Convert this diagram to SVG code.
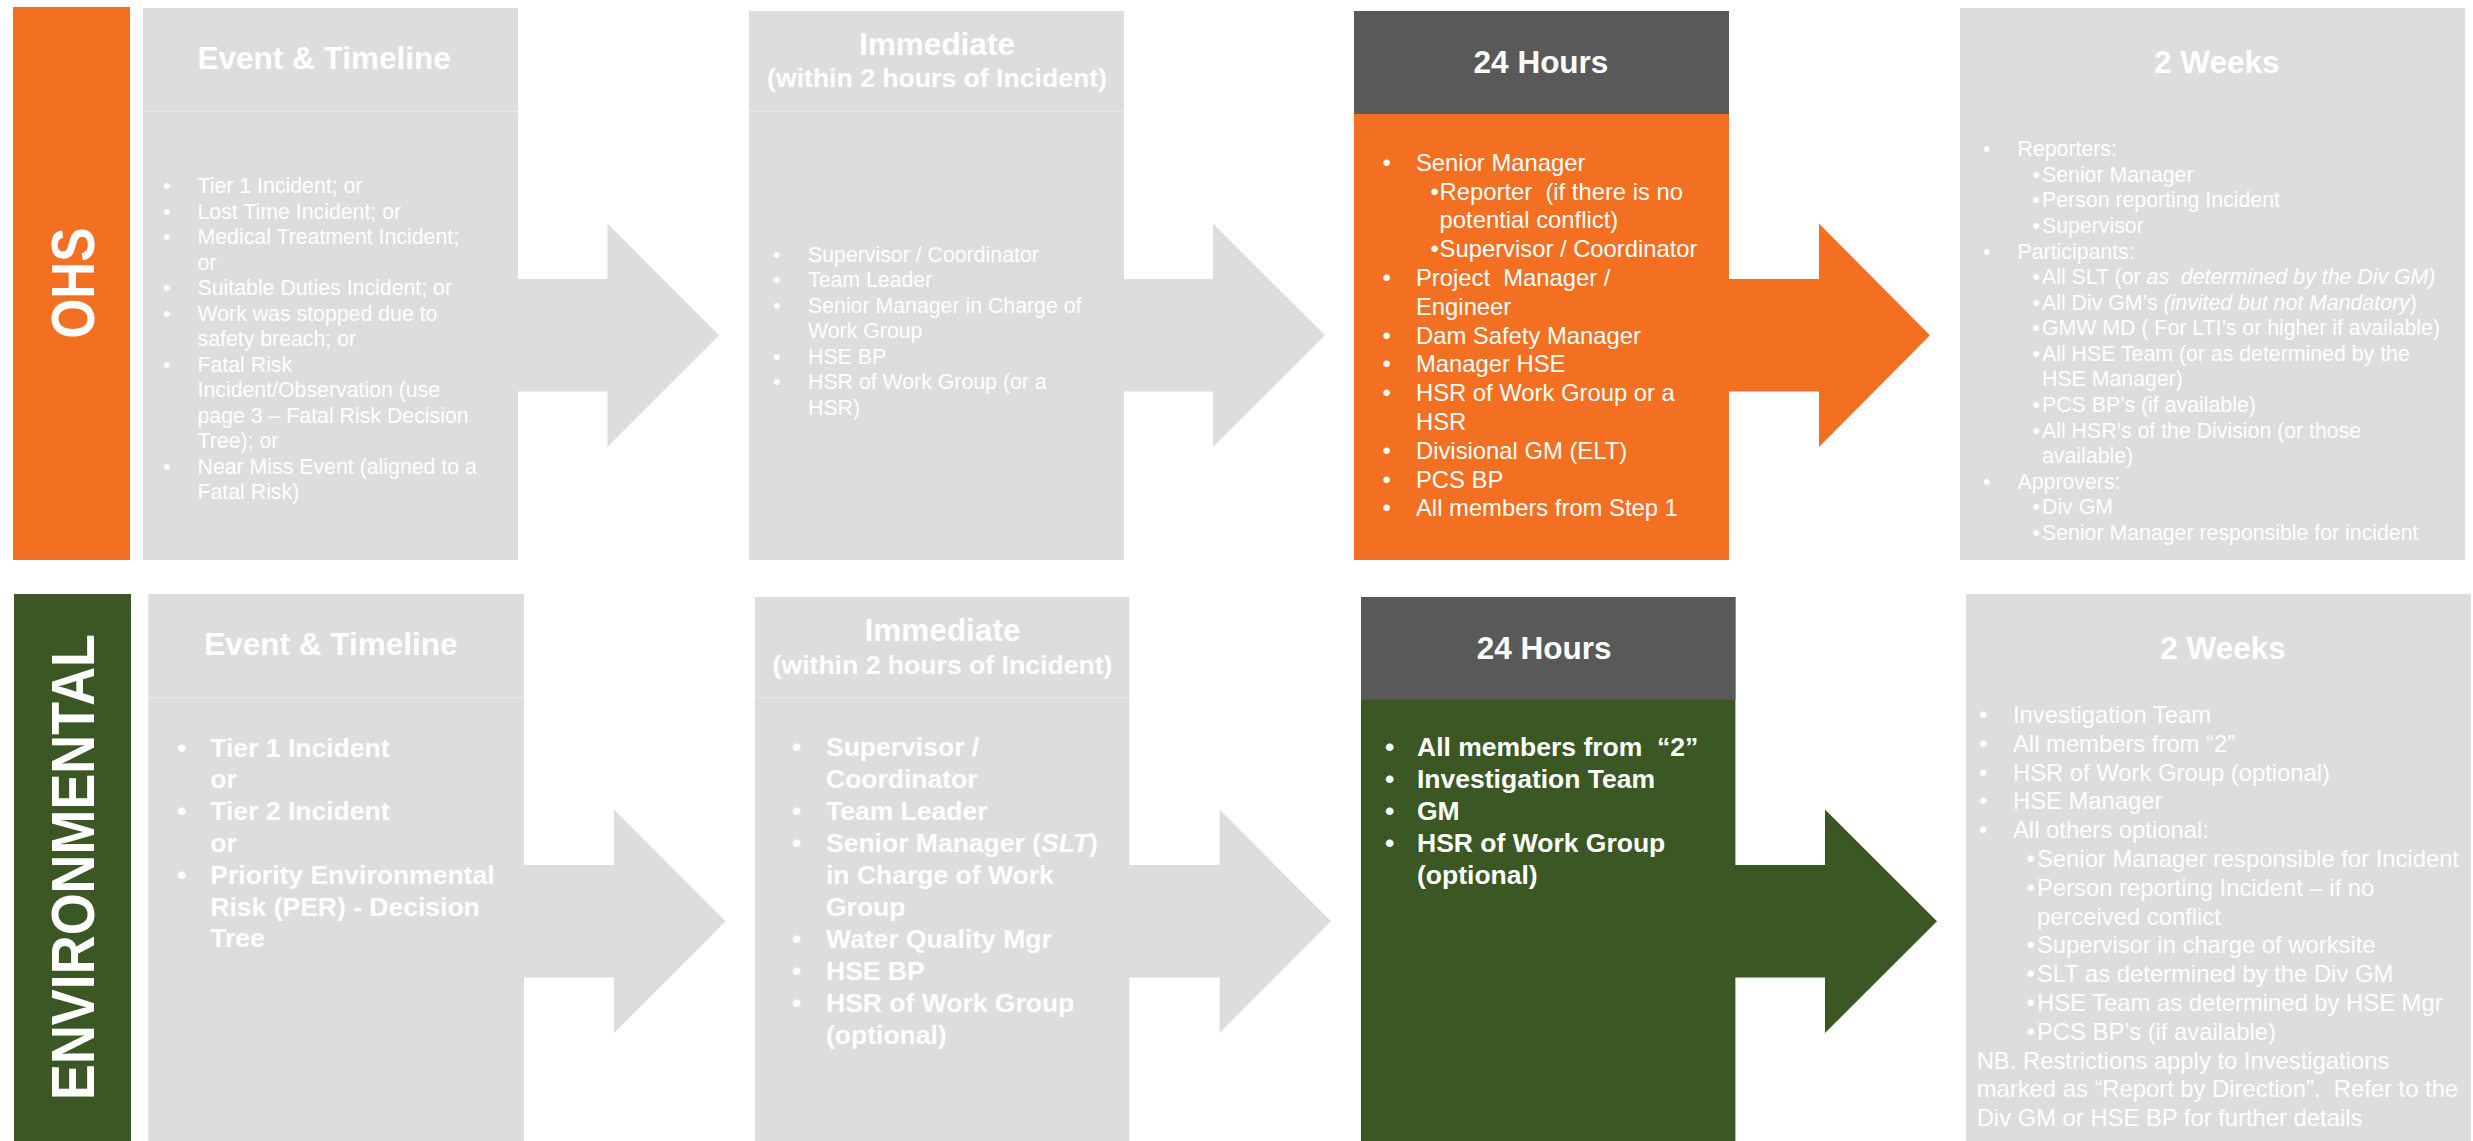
<svg xmlns="http://www.w3.org/2000/svg" width="2473" height="1141" viewBox="0 0 2473 1141">
<style>
text{font-family:"Liberation Sans",Arial,sans-serif;fill:#ffffff}
.h{font-size:31.5px;font-weight:bold}
.h2{font-size:26.6px;font-weight:bold}
.s1{font-size:21.3px}
.s2{font-size:23.8px}
.s3{font-size:26.5px;font-weight:bold}
.v{font-size:60.5px;font-weight:bold}
.gray{fill:#dddddd}
.div{stroke:#e6e6e6;stroke-width:1.5}
.dark{fill:#595959}
.org{fill:#f37022}
.grn{fill:#3b5724}
.i{font-style:italic}
</style>
<rect width="2473" height="1141" fill="#ffffff"/>

<g id="connectors">
<polygon class="gray" points="517,279 607.5,279 607.5,223.6 719,335.3 607.5,447 607.5,391.5 517,391.5"/>
<polygon class="gray" points="1123,279 1213,279 1213,223.6 1325,335.3 1213,447 1213,391.5 1123,391.5"/>
<polygon class="org" points="1728,279 1819,279 1819,223.6 1930,335.3 1819,447 1819,391.5 1728,391.5"/>
<polygon class="gray" points="523,865 614,865 614,809.6 725.5,921.3 614,1033 614,977.5 523,977.5"/>
<polygon class="gray" points="1128.4,865 1219.6,865 1219.6,809.6 1331,921.3 1219.6,1033 1219.6,977.5 1128.4,977.5"/>
<polygon class="grn" points="1734.4,865 1825,865 1825,809.6 1937,921.3 1825,1033 1825,977.5 1734.4,977.5"/>
</g>

<g id="ohs-label">
<rect class="org" x="13" y="7" width="117" height="553"/>
<text class="v" transform="translate(94,283) rotate(-90)" text-anchor="middle" textLength="111" lengthAdjust="spacingAndGlyphs">OHS</text>
</g>

<g id="ohs-event">
<rect class="gray" x="143" y="8" width="375" height="552"/>
<line class="div" x1="143" y1="111.5" x2="518" y2="111.5"/>
<text class="h" x="197.5" y="69">Event &amp; Timeline</text>
<g class="s1">
<text class="s1" x="163" y="193.4">•</text><text class="s1" x="197.5" y="193.4">Tier 1 Incident; or</text>
<text class="s1" x="163" y="218.9">•</text><text class="s1" x="197.5" y="218.9">Lost Time Incident; or</text>
<text class="s1" x="163" y="244.4">•</text><text class="s1" x="197.5" y="244.4">Medical Treatment Incident;</text>
<text class="s1" x="197.5" y="269.9">or</text>
<text class="s1" x="163" y="295.4">•</text><text class="s1" x="197.5" y="295.4">Suitable Duties Incident; or</text>
<text class="s1" x="163" y="320.9">•</text><text class="s1" x="197.5" y="320.9">Work was stopped due to</text>
<text class="s1" x="197.5" y="346.4">safety breach; or</text>
<text class="s1" x="163" y="371.9">•</text><text class="s1" x="197.5" y="371.9">Fatal Risk</text>
<text class="s1" x="197.5" y="397.4">Incident/Observation (use</text>
<text class="s1" x="197.5" y="422.9">page 3 – Fatal Risk Decision</text>
<text class="s1" x="197.5" y="448.4">Tree); or</text>
<text class="s1" x="163" y="473.9">•</text><text class="s1" x="197.5" y="473.9">Near Miss Event (aligned to a</text>
<text class="s1" x="197.5" y="499.4">Fatal Risk)</text>
</g>
</g>

<g id="ohs-immediate">
<rect class="gray" x="749" y="11" width="375" height="549"/>
<line class="div" x1="749" y1="111.5" x2="1124" y2="111.5"/>
<text class="h" x="937" y="55.3" text-anchor="middle">Immediate</text>
<text class="h2" x="937" y="87" text-anchor="middle">(within 2 hours of Incident)</text>
<text class="s1" x="773" y="261.5">•</text><text class="s1" x="808" y="261.5">Supervisor / Coordinator</text>
<text class="s1" x="773" y="287">•</text><text class="s1" x="808" y="287">Team Leader</text>
<text class="s1" x="773" y="312.5">•</text><text class="s1" x="808" y="312.5">Senior Manager in Charge of</text>
<text class="s1" x="808" y="338">Work Group</text>
<text class="s1" x="773" y="363.5">•</text><text class="s1" x="808" y="363.5">HSE BP</text>
<text class="s1" x="773" y="389">•</text><text class="s1" x="808" y="389">HSR of Work Group (or a</text>
<text class="s1" x="808" y="414.5">HSR)</text>
</g>

<g id="ohs-24h">
<rect class="org" x="1354" y="11" width="375" height="549"/>
<rect class="dark" x="1354" y="11" width="375" height="103"/>
<text class="h" x="1541" y="72.7" text-anchor="middle">24 Hours</text>
<text class="s2" x="1382.5" y="170.8">•</text><text class="s2" x="1416" y="170.8">Senior Manager</text>
<text class="s2" x="1430.5" y="199.6">•</text><text class="s2" x="1439.6" y="199.6" xml:space="preserve">Reporter  (if there is no</text>
<text class="s2" x="1439.6" y="228.4">potential conflict)</text>
<text class="s2" x="1430.5" y="257.2">•</text><text class="s2" x="1439.6" y="257.2">Supervisor / Coordinator</text>
<text class="s2" x="1382.5" y="286">•</text><text class="s2" x="1416" y="286" xml:space="preserve">Project  Manager /</text>
<text class="s2" x="1416" y="314.8">Engineer</text>
<text class="s2" x="1382.5" y="343.6">•</text><text class="s2" x="1416" y="343.6">Dam Safety Manager</text>
<text class="s2" x="1382.5" y="372.4">•</text><text class="s2" x="1416" y="372.4">Manager HSE</text>
<text class="s2" x="1382.5" y="401.2">•</text><text class="s2" x="1416" y="401.2">HSR of Work Group or a</text>
<text class="s2" x="1416" y="430">HSR</text>
<text class="s2" x="1382.5" y="458.8">•</text><text class="s2" x="1416" y="458.8">Divisional GM (ELT)</text>
<text class="s2" x="1382.5" y="487.6">•</text><text class="s2" x="1416" y="487.6">PCS BP</text>
<text class="s2" x="1382.5" y="516.4">•</text><text class="s2" x="1416" y="516.4">All members from Step 1</text>
</g>

<g id="ohs-2weeks">
<rect class="gray" x="1960" y="8" width="505" height="552"/>
<text class="h" x="2216.8" y="72.7" text-anchor="middle">2 Weeks</text>
<text class="s1" x="1983" y="156.3">•</text><text class="s1" x="2017.5" y="156.3">Reporters:</text>
<text class="s1" x="2032.5" y="181.9">•</text><text class="s1" x="2042" y="181.9">Senior Manager</text>
<text class="s1" x="2032.5" y="207.4">•</text><text class="s1" x="2042" y="207.4">Person reporting Incident</text>
<text class="s1" x="2032.5" y="233">•</text><text class="s1" x="2042" y="233">Supervisor</text>
<text class="s1" x="1983" y="258.6">•</text><text class="s1" x="2017.5" y="258.6">Participants:</text>
<text class="s1" x="2032.5" y="284.2">•</text><text class="s1" x="2042" y="284.2" xml:space="preserve">All SLT (or <tspan class="i">as  determined by the Div GM)</tspan></text>
<text class="s1" x="2032.5" y="309.7">•</text><text class="s1" x="2042" y="309.7" xml:space="preserve">All Div GM’s <tspan class="i">(invited but not Mandatory</tspan>)</text>
<text class="s1" x="2032.5" y="335.3">•</text><text class="s1" x="2042" y="335.3">GMW MD ( For LTI’s or higher if available)</text>
<text class="s1" x="2032.5" y="360.9">•</text><text class="s1" x="2042" y="360.9">All HSE Team (or as determined by the</text>
<text class="s1" x="2042" y="386.4">HSE Manager)</text>
<text class="s1" x="2032.5" y="412">•</text><text class="s1" x="2042" y="412">PCS BP’s (if available)</text>
<text class="s1" x="2032.5" y="437.6">•</text><text class="s1" x="2042" y="437.6">All HSR’s of the Division (or those</text>
<text class="s1" x="2042" y="463.1">available)</text>
<text class="s1" x="1983" y="488.7">•</text><text class="s1" x="2017.5" y="488.7">Approvers:</text>
<text class="s1" x="2032.5" y="514.3">•</text><text class="s1" x="2042" y="514.3">Div GM</text>
<text class="s1" x="2032.5" y="539.9">•</text><text class="s1" x="2042" y="539.9">Senior Manager responsible for incident</text>
</g>

<g id="env-label">
<rect class="grn" x="14" y="594" width="117" height="547"/>
<text class="v" transform="translate(94,867) rotate(-90)" text-anchor="middle" textLength="466" lengthAdjust="spacingAndGlyphs">ENVIRONMENTAL</text>
</g>

<g id="env-event">
<rect class="gray" x="148.3" y="594" width="375.7" height="547"/>
<line class="div" x1="148.3" y1="697.5" x2="524" y2="697.5"/>
<text class="h" x="204.3" y="654.5">Event &amp; Timeline</text>
<text class="s3" x="177" y="756.5">•</text><text class="s3" x="210.3" y="756.5">Tier 1 Incident</text>
<text class="s3" x="210.3" y="788.3">or</text>
<text class="s3" x="177" y="820.1">•</text><text class="s3" x="210.3" y="820.1">Tier 2 Incident</text>
<text class="s3" x="210.3" y="851.9">or</text>
<text class="s3" x="177" y="883.7">•</text><text class="s3" x="210.3" y="883.7">Priority Environmental</text>
<text class="s3" x="210.3" y="915.5">Risk (PER) - Decision</text>
<text class="s3" x="210.3" y="947.3">Tree</text>
</g>

<g id="env-immediate">
<rect class="gray" x="755" y="597" width="374.4" height="544"/>
<line class="div" x1="755" y1="697.5" x2="1129.4" y2="697.5"/>
<text class="h" x="942.5" y="641" text-anchor="middle">Immediate</text>
<text class="h2" x="942.5" y="673.8" text-anchor="middle">(within 2 hours of Incident)</text>
<text class="s3" x="792" y="755.7">•</text><text class="s3" x="826" y="755.7">Supervisor /</text>
<text class="s3" x="826" y="787.7">Coordinator</text>
<text class="s3" x="792" y="819.7">•</text><text class="s3" x="826" y="819.7">Team Leader</text>
<text class="s3" x="792" y="851.7">•</text><text class="s3" x="826" y="851.7">Senior Manager (<tspan class="i">SLT</tspan>)</text>
<text class="s3" x="826" y="883.7">in Charge of Work</text>
<text class="s3" x="826" y="915.7">Group</text>
<text class="s3" x="792" y="947.7">•</text><text class="s3" x="826" y="947.7">Water Quality Mgr</text>
<text class="s3" x="792" y="979.7">•</text><text class="s3" x="826" y="979.7">HSE BP</text>
<text class="s3" x="792" y="1011.7">•</text><text class="s3" x="826" y="1011.7">HSR of Work Group</text>
<text class="s3" x="826" y="1043.7">(optional)</text>
</g>

<g id="env-24h">
<rect class="grn" x="1361" y="597" width="374.4" height="544"/>
<rect class="dark" x="1361" y="597" width="374.4" height="102.7"/>
<text class="h" x="1544.2" y="659.2" text-anchor="middle">24 Hours</text>
<text class="s3" x="1385" y="755.7">•</text><text class="s3" x="1417" y="755.7" xml:space="preserve">All members from  “2”</text>
<text class="s3" x="1385" y="787.7">•</text><text class="s3" x="1417" y="787.7">Investigation Team</text>
<text class="s3" x="1385" y="819.7">•</text><text class="s3" x="1417" y="819.7">GM</text>
<text class="s3" x="1385" y="851.7">•</text><text class="s3" x="1417" y="851.7">HSR of Work Group</text>
<text class="s3" x="1417" y="883.7">(optional)</text>
</g>

<g id="env-2weeks">
<rect class="gray" x="1966" y="594" width="505" height="547"/>
<text class="h" x="2223" y="659.2" text-anchor="middle">2 Weeks</text>
<text class="s2" x="1979" y="723">•</text><text class="s2" x="2013" y="723">Investigation Team</text>
<text class="s2" x="1979" y="751.8">•</text><text class="s2" x="2013" y="751.8">All members from “2”</text>
<text class="s2" x="1979" y="780.6">•</text><text class="s2" x="2013" y="780.6">HSR of Work Group (optional)</text>
<text class="s2" x="1979" y="809.4">•</text><text class="s2" x="2013" y="809.4">HSE Manager</text>
<text class="s2" x="1979" y="838.2">•</text><text class="s2" x="2013" y="838.2">All others optional:</text>
<text class="s2" x="2026.5" y="867">•</text><text class="s2" x="2037" y="867">Senior Manager responsible for Incident</text>
<text class="s2" x="2026.5" y="895.8">•</text><text class="s2" x="2037" y="895.8">Person reporting Incident – if no</text>
<text class="s2" x="2037" y="924.6">perceived conflict</text>
<text class="s2" x="2026.5" y="953.4">•</text><text class="s2" x="2037" y="953.4">Supervisor in charge of worksite</text>
<text class="s2" x="2026.5" y="982.2">•</text><text class="s2" x="2037" y="982.2">SLT as determined by the Div GM</text>
<text class="s2" x="2026.5" y="1011">•</text><text class="s2" x="2037" y="1011">HSE Team as determined by HSE Mgr</text>
<text class="s2" x="2026.5" y="1039.8">•</text><text class="s2" x="2037" y="1039.8">PCS BP’s (if available)</text>
<text class="s2" x="1976.7" y="1068.6">NB. Restrictions apply to Investigations</text>
<text class="s2" x="1976.7" y="1097.4" xml:space="preserve">marked as “Report by Direction”.  Refer to the</text>
<text class="s2" x="1976.7" y="1126.2">Div GM or HSE BP for further details</text>
</g>
</svg>
